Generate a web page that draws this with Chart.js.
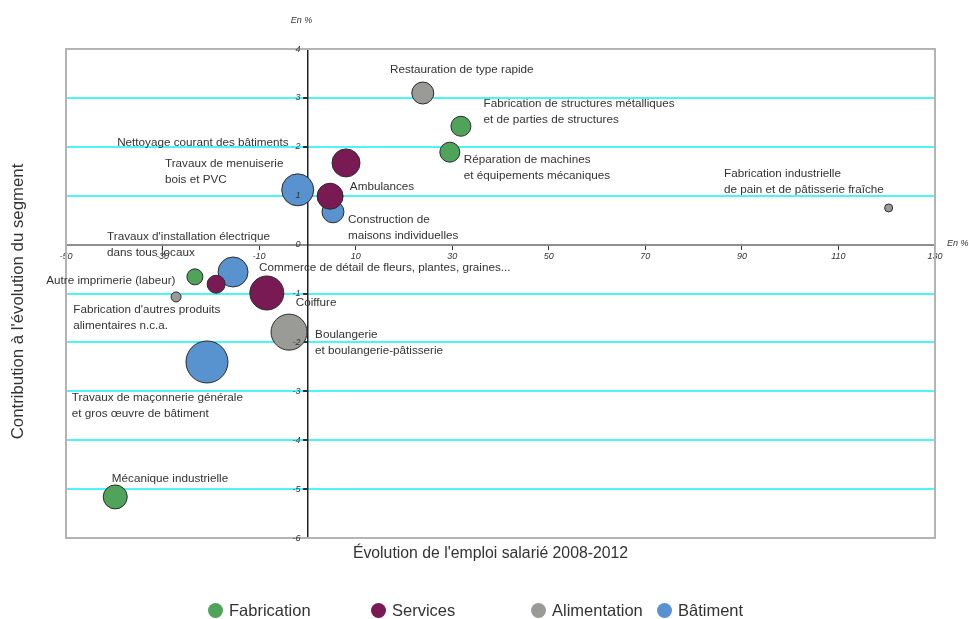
<!DOCTYPE html>
<html>
<head>
<meta charset="utf-8">
<script src="https://cdn.jsdelivr.net/npm/chart.js@4.4.0/dist/chart.umd.min.js"></script>
<style>
  body { margin: 0; background: #fff; }
  #wrap { position: relative; width: 969px; height: 619px; }
  #legend { position: absolute; left: 0; top: 601px; width: 969px; height: 18px;
            font-family: "Liberation Sans", Arial, sans-serif;
            font-size: 16.5px; color: #333; }
  .item { position: absolute; top: 0; display: flex; align-items: center; white-space: nowrap; }
  .dot { width: 15px; height: 15px; border-radius: 50%; margin-right: 6px; }
</style>
</head>
<body>
<div id="wrap">
  <canvas id="myChart" width="969" height="619"></canvas>
  <div id="legend"></div>
</div>
<script>
// categories
var groups = ["Fabrication", "Services", "Alimentation", "Bâtiment"];
var groupColors = ["#4fa35a", "#7a1a55", "#9a9a97", "#5893cf"];

// segments (one bubble each)
var segments = [
  "Restauration de type rapide",
  "Fabrication de structures métalliques\net de parties de structures",
  "Réparation de machines\net équipements mécaniques",
  "Fabrication industrielle\nde pain et de pâtisserie fraîche",
  "Nettoyage courant des bâtiments",
  "Ambulances",
  "Travaux de menuiserie\nbois et PVC",
  "Construction de\nmaisons individuelles",
  "Travaux d'installation électrique\ndans tous locaux",
  "Commerce de détail de fleurs, plantes, graines...",
  "Autre imprimerie (labeur)",
  "Fabrication d'autres produits\nalimentaires n.c.a.",
  "Coiffure",
  "Boulangerie\net boulangerie-pâtisserie",
  "Travaux de maçonnerie générale\net gros œuvre de bâtiment",
  "Mécanique industrielle"
];
var segmentGroup = [2, 0, 0, 2, 1, 1, 3, 3, 3, 1, 0, 2, 1, 2, 3, 0];

// Évolution de l'emploi salarié 2008-2012 (en %)
var evolution = [23.9, 31.8, 29.5, 120.4, 8.0, 4.7, -2.0, 5.3, -15.4, -18.9, -23.3, -27.2, -8.4, -3.8, -20.8, -39.8];
// Contribution à l'évolution du segment (en %)
var contribution = [3.10, 2.42, 1.89, 0.75, 1.67, 0.99, 1.12, 0.67, -0.56, -0.81, -0.66, -1.07, -0.99, -1.79, -2.40, -5.16];
// bubble size
var bubbleSize = [11, 10, 10, 4, 14, 13, 16, 11, 15, 9, 8, 5, 17, 18, 21, 12];

// where each segment's label starts (data units)
var labelX = [17.1, 36.5, 32.4, 86.3, -39.4, 8.8, -29.5, 8.4, -41.5, -10.0, -54.1, -48.5, -2.4, 1.6, -48.8, -40.5];
var labelY = [3.57, 2.87, 1.73, 1.44, 2.08, 1.18, 1.65, 0.50, 0.17, -0.48, -0.74, -1.34, -1.18, -1.85, -3.14, -4.79];

var xTicks = [-50, -30, -10, 10, 30, 50, 70, 90, 110, 130];
var yTicks = [-6, -5, -4, -3, -2, -1, 0, 1, 2, 3, 4];

var sans = '"Liberation Sans", Arial, sans-serif';

var datasets = groups.map(function (g, gi) {
  var pts = [];
  for (let i = 0; i < segments.length; i++) {
    if (segmentGroup[i] == gi) {
      pts.push({ x: evolution[i], y: contribution[i], r: bubbleSize[i] });
    }
  }
  return {
    label: g,
    data: pts,
    backgroundColor: groupColors[gi],
    borderColor: "#2b2b2b",
    borderWidth: 1,
    hoverRadius: 0
  };
});

const frame = {
  id: "frame",
  beforeDatasetsDraw(chart) {
    const { ctx, chartArea } = chart;
    ctx.save();
    ctx.strokeStyle = "#b4b4b4";
    ctx.lineWidth = 2;
    ctx.strokeRect(chartArea.left, chartArea.top, chartArea.right - chartArea.left, chartArea.bottom - chartArea.top);
    ctx.restore();
  },
  afterDatasetsDraw(chart) {
    const { ctx, chartArea } = chart;
    const x = chart.scales.x, y = chart.scales.y;
    ctx.save();
    ctx.fillStyle = "#333";
    ctx.textBaseline = "middle";
    ctx.textAlign = "left";
    ctx.font = "11.7px " + sans;
    segments.forEach(function (name, i) {
      const px = x.getPixelForValue(labelX[i]);
      const py = y.getPixelForValue(labelY[i]);
      name.split("\n").forEach(function (line, k) {
        ctx.fillText(line, px, py + k * 16);
      });
    });

    // y tick labels, left of the centred axis
    ctx.font = "italic 9px " + sans;
    ctx.textAlign = "right";
    const x0 = x.getPixelForValue(0);
    yTicks.forEach(function (v) {
      ctx.fillText(String(v), x0 - 7, y.getPixelForValue(v));
    });

    // "En %" units
    ctx.textAlign = "center";
    ctx.fillText("En %", x0 - 6, 20);
    ctx.textAlign = "left";
    ctx.fillText("En %", chartArea.right + 12, y.getPixelForValue(0) - 1);

    // axis titles
    ctx.font = "15.8px " + sans;
    ctx.textAlign = "center";
    ctx.fillText("Évolution de l'emploi salarié 2008-2012", (chartArea.left + chartArea.right) / 2 - 10, chartArea.bottom + 16);
    ctx.translate(18, (chartArea.top + chartArea.bottom) / 2 + 8);
    ctx.rotate(-Math.PI / 2);
    ctx.font = "16.8px " + sans;
    ctx.fillText("Contribution à l'évolution du segment", 0, 0);
    ctx.restore();
  }
};

var ctx = document.getElementById("myChart").getContext("2d");
let chart = new Chart(ctx, {
  type: "bubble",
  data: { datasets: datasets },
  options: {
    responsive: false,
    animation: false,
    layout: { padding: { left: 66, right: 34, top: 49, bottom: 81 } },
    plugins: {
      legend: { display: false },
      tooltip: { enabled: false }
    },
    scales: {
      x: {
        type: "linear",
        position: { y: 0 },
        min: xTicks[0],
        max: xTicks[xTicks.length - 1],
        afterBuildTicks: function (axis) {
          axis.ticks = xTicks.map(function (v) { return { value: v }; });
        },
        grid: { color: "rgba(0,0,0,0)", tickColor: "#333", tickLength: 4, drawOnChartArea: false },
        border: { color: "#8e8e8e", width: 2 },
        ticks: { color: "#333", font: { family: sans, size: 9, style: "italic" }, padding: 2, maxRotation: 0, autoSkip: false }
      },
      y: {
        type: "linear",
        position: { x: 0 },
        min: yTicks[0],
        max: yTicks[yTicks.length - 1],
        afterBuildTicks: function (axis) {
          axis.ticks = yTicks.map(function (v) { return { value: v }; });
        },
        grid: {
          color: function (c) {
            var v = c.tick ? c.tick.value : 0;
            if (v == 0 || v == yTicks[0] || v == yTicks[yTicks.length - 1]) return "rgba(0,0,0,0)";
            return "#4df5fb";
          },
          lineWidth: 2,
          tickColor: "#333",
          tickLength: 4
        },
        border: { color: "#222", width: 1.5 },
        ticks: { display: false }
      }
    }
  },
  plugins: [frame]
});

// legend
var legendLeft = [208, 371, 531, 657];
var legend = document.getElementById("legend");
groups.forEach(function (g, i) {
  var item = document.createElement("div");
  item.className = "item";
  item.style.left = legendLeft[i] + "px";
  item.innerHTML = "<span class='dot' style='background:" + groupColors[i] + "'></span>" + g;
  legend.appendChild(item);
});
</script>
</body>
</html>
